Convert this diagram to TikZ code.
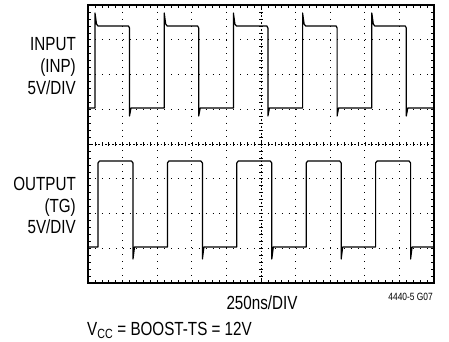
\documentclass[tikz,border=0pt]{standalone}
\usepackage{fontspec}
\setmainfont[FakeStretch=0.8]{Liberation Sans}

\begin{document}
\begin{tikzpicture}[x=1pt,y=-1pt,
  trace/.style={line width=1.2pt, line join=round},
  gridline/.style={line width=0.8pt, dash pattern=on 0.9pt off 6.02pt},
  axis/.style={line width=0.7pt, dash pattern=on 1.6pt off 1.86pt},
  frame/.style={line width=1.2pt},
  tick/.style={line width=0.6pt},
  label/.style={font=\fontsize{19}{22}\selectfont, inner sep=0pt}]

\useasboundingbox (0,0) rectangle (449,341);

% Draw the dotted graticule
\foreach \k in {1,2,3,4,6,7,8,9}
  \draw[gridline] (88+34.6*\k,5) -- (88+34.6*\k,283);
\foreach \k in {1,2,3,5,6,7}
  \draw[gridline] (88,5+34.75*\k) -- (434,5+34.75*\k);

% Draw the centre axes with their minor ticks
\draw[axis] (88,144) -- (434,144);
\draw[axis] (261,5) -- (261,283);
\foreach \k in {1,...,49}
  \draw[tick] (88+6.92*\k,142) -- (88+6.92*\k,146);
\foreach \k in {1,...,39}
  \draw[tick] (259,5+6.95*\k) -- (263,5+6.95*\k);

% Draw the screen frame and its edge ticks
\draw[frame] (88,5) rectangle (434,283);
\foreach \k in {1,...,49} {
  \draw[tick] (88+6.92*\k,5) -- (88+6.92*\k,8);
  \draw[tick] (88+6.92*\k,283) -- (88+6.92*\k,280);
}
\foreach \k in {1,...,39} {
  \draw[tick] (88,5+6.95*\k) -- (91,5+6.95*\k);
  \draw[tick] (434,5+6.95*\k) -- (431,5+6.95*\k);
}

% Input trace (INP)
\draw[trace] (88,108)
  \foreach \r in {95,164.2,233.4,302.6,371.8} {
    -- (\r,108) -- (\r,13) -- (\r+1.5,24) -- (\r+3,26)
    -- (\r+33.5,26) -- (\r+34.5,28) -- (\r+34.5,116) -- (\r+36,108)
  } -- (434,108);

% Output trace (TG)
\draw[trace] (88,247)
  \foreach \r in {98,167.4,236.8,306.2,375.6} {
    -- (\r,247) -- (\r,163) -- (\r+1.5,161)
    -- (\r+33.5,161) -- (\r+35,163) -- (\r+35,259) -- (\r+36.5,247)
  } -- (434,247);

% Channel labels
\node[label, anchor=base east] (inpA) at (76,50) {INPUT};
\node[label, anchor=base east] (inpB) at (76,72) {(INP)};
\node[label, anchor=base east] (inpC) at (76,94) {5V/DIV};
\node[label, anchor=base east] (outA) at (76,190) {OUTPUT};
\node[label, anchor=base east] (outB) at (76,212) {(TG)};
\node[label, anchor=base east] (outC) at (76,233) {5V/DIV};

% Time base, figure tag and supply note
\node[label, anchor=base] (tbase) at (262,309) {250ns/DIV};
\node[font=\fontsize{10.5}{12}\selectfont, inner sep=0pt, anchor=base east] (ftag) at (433,300) {4440-5 G07};
\node[font=\fontsize{19}{22}\selectfont, inner sep=0pt, anchor=base west] (vcc) at (87,335) {V\textsubscript{CC} = BOOST-TS = 12V};

\end{tikzpicture}
\end{document}
